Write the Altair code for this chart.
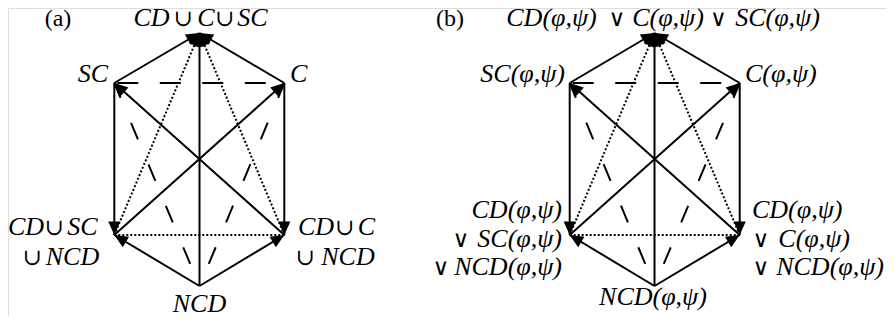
import math
import altair as alt
import pandas as pd

# ---- diagram data -------------------------------------------------------
node_names = ["T", "SC", "C", "BL", "BR", "NCD"]
node_x_a = [199.5, 114.3, 284.3, 114.3, 284.3, 199.5]
node_x_b = [654.5, 569.7, 739.7, 569.7, 739.7, 654.5]
node_y = [33, 83, 83, 235, 235, 286]

edge_from = ["SC", "C", "NCD", "BL", "BR", "SC", "C", "BL", "BR", "NCD", "NCD", "BL", "SC", "NCD", "NCD"]
edge_to = ["T", "T", "T", "T", "T", "BL", "BR", "C", "SC", "BL", "BR", "BR", "C", "SC", "C"]
edge_style = ["solid", "solid", "solid", "dotted", "dotted", "solid", "solid", "solid", "solid",
              "solid", "solid", "dotted", "dash_h", "dash_d", "dash_d"]
edge_arrow = [1, 1, 1, 1, 1, 1, 1, 1, 1, 1, 1, 0, 0, 0, 0]

# label pieces: italic words and upright set symbols
seg_text = [
    # panel (a)
    "CD", "∪", "C", "∪", "SC",
    "SC", "C",
    "CD", "∪", "SC", "∪", "NCD",
    "CD", "∪", "C", "∪", "NCD",
    "NCD",
    # panel (b)
    "CD(φ,ψ)", "∨", "C(φ,ψ)", "∨", "SC(φ,ψ)",
    "SC(φ,ψ)", "C(φ,ψ)",
    "CD(φ,ψ)", "∨", "SC(φ,ψ)", "∨", "NCD(φ,ψ)",
    "CD(φ,ψ)", "∨", "C(φ,ψ)", "∨", "NCD(φ,ψ)",
    "NCD(φ,ψ)",
]
seg_x = [
    151.5, 183.5, 206, 225, 252.5,
    108, 290,
    26, 54.5, 82.5, 32.5, 72.5,
    316, 345, 366.5, 305.5, 348,
    199.5,
    551.5, 617, 668, 718.5, 777.5,
    565, 745,
    562, 461, 562, 441, 562,
    752, 761, 850, 761, 884,
    653,
]
seg_y = [
    26, 26, 26, 26, 26,
    82, 82,
    235, 235, 235, 265, 265,
    235, 235, 235, 265, 265,
    312,
    26, 26, 26, 26, 26,
    82, 82,
    218, 247, 247, 275, 275,
    218, 247, 247, 275, 275,
    305,
]
seg_align = [
    "center", "center", "center", "center", "center",
    "right", "left",
    "center", "center", "center", "center", "center",
    "center", "center", "center", "center", "center",
    "center",
    "center", "center", "center", "center", "center",
    "right", "left",
    "right", "center", "right", "center", "right",
    "left", "center", "right", "center", "right",
    "center",
]

panel_text = ["(a)", "(b)"]
panel_x = [58, 450]
panel_y = [26, 26]

# ---- build tables --------------------------------------------------------
rows, heads = [], []
for nx in (node_x_a, node_x_b):
    pos = {n: (x, y) for n, x, y in zip(node_names, nx, node_y)}
    for f, t, s, a in zip(edge_from, edge_to, edge_style, edge_arrow):
        (x1, y1), (x2, y2) = pos[f], pos[t]
        rows.append({"x": x1, "y": y1, "x2": x2, "y2": y2, "style": s})
        if a:
            ang = math.degrees(math.atan2(x2 - x1, -(y2 - y1))) % 360
            heads.append({"x": x2, "y": y2, "angle": ang})
edges = pd.DataFrame(rows)
arrows = pd.DataFrame(heads)
segs = pd.DataFrame({"x": seg_x, "y": seg_y, "text": seg_text, "align": seg_align})
segs["sym"] = segs["text"].isin(["∪", "∨"])
panels = pd.DataFrame({"x": panel_x, "y": panel_y, "text": panel_text})

xs = alt.Scale(domain=[8, 886], nice=False, zero=False)
ys = alt.Scale(domain=[8, 316], nice=False, zero=False, reverse=True)
X = alt.X("x:Q", scale=xs, axis=None)
Y = alt.Y("y:Q", scale=ys, axis=None)

base = alt.Chart(edges).encode(x=X, y=Y, x2="x2:Q", y2="y2:Q")
solid = base.transform_filter(alt.datum.style == "solid").mark_rule(color="black", strokeWidth=2)
dotted = base.transform_filter(alt.datum.style == "dotted").mark_rule(
    color="black", strokeWidth=2, strokeDash=[2, 2])
dash_h = base.transform_filter(alt.datum.style == "dash_h").mark_rule(
    color="black", strokeWidth=2, strokeDash=[21, 21.5], strokeDashOffset=39.5)
dash_d = base.transform_filter(alt.datum.style == "dash_d").mark_rule(
    color="black", strokeWidth=2, strokeDash=[18, 27], strokeDashOffset=21)

heads_layer = alt.Chart(arrows).mark_point(
    shape="M0,0L-0.45,1L0.45,1Z", filled=True, color="black", opacity=1, size=729, strokeWidth=0
).encode(x=X, y=Y, angle=alt.Angle("angle:Q", scale=None))

font = "Liberation Serif"
txt = []
for al in ["left", "right", "center"]:
    txt.append(alt.Chart(segs).transform_filter(
        (alt.datum.align == al) & (alt.datum.sym == False)
    ).mark_text(
        align=al, baseline="alphabetic", font=font, fontStyle="italic", fontSize=26, color="black"
    ).encode(x=X, y=Y, text="text:N"))
sym_layer = alt.Chart(segs).transform_filter(alt.datum.sym == True).mark_text(
    align="center", baseline="alphabetic", font="DejaVu Serif", fontSize=23, color="black"
).encode(x=X, y=Y, text="text:N")
ptxt = alt.Chart(panels).mark_text(
    align="center", baseline="alphabetic", font=font, fontSize=24, color="black"
).encode(x=X, y=Y, text="text:N")

chart = alt.layer(solid, dotted, dash_h, dash_d, heads_layer, *txt, sym_layer, ptxt).properties(
    width=878, height=308, padding=0, autosize=alt.AutoSizeParams(type="none")
).configure_view(stroke=None).configure(background="white")

chart.save("out.html", embed_options={"renderer": "svg", "actions": False})
